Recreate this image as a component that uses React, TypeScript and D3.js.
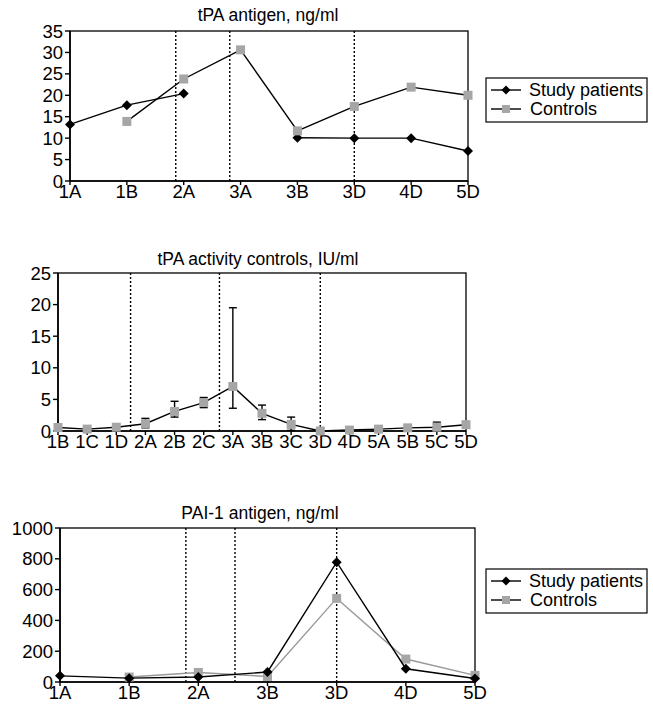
import React from 'react';
import * as d3 from 'd3';

// tPA antigen
const antigenCats = ['1A', '1B', '2A', '3A', '3B', '3D', '4D', '5D'];
const antigenStudy = [13.2, 17.7, 20.4, null, 10.1, 10, 10, 7.0];
const antigenControls = [null, 13.9, 23.8, 30.6, 11.7, 17.4, 21.9, 20.0];
const antigenTicks = [0, 5, 10, 15, 20, 25, 30, 35];
const antigenDividers = [1.86, 2.81, 5];

// tPA activity controls
const activityCats = ['1B', '1C', '1D', '2A', '2B', '2C', '3A', '3B', '3C', '3D', '4D', '5A', '5B', '5C', '5D'];
const activityValues = [0.55, 0.3, 0.6, 1.15, 3.1, 4.5, 7.05, 2.8, 1.05, 0, 0.15, 0.3, 0.5, 0.6, 1.0];
const activityUpper = [0.55, 0.3, 0.6, 2.0, 4.7, 5.3, 19.5, 4.1, 2.2, 0, 0.15, 0.3, 0.5, 1.4, 1.0];
const activityLower = [0.55, 0.3, 0.6, 0.5, 2.2, 3.7, 3.6, 1.8, 0.1, 0, 0.15, 0.3, 0.5, 0.3, 1.0];
const activityTicks = [0, 5, 10, 15, 20, 25];
const activityDividers = [2.49, 5.54, 9];

// PAI-1 antigen
const paiCats = ['1A', '1B', '2A', '3B', '3D', '4D', '5D'];
const paiStudy = [40, 25, 32, 65, 778, 86, 23];
const paiControls = [null, 32, 62, 36, 543, 149, 43];
const paiTicks = [0, 200, 400, 600, 800, 1000];
const paiDividers = [1.82, 2.53, 4];

const FONT = '"Liberation Sans", Arial, sans-serif';
const GRAY = '#a6a6a6';

type Series = { values: (number | null)[]; kind: 'diamond' | 'square'; line: string };

function Diamond({ x, y, r = 5 }: { x: number; y: number; r?: number }) {
  return <path d={`M${x},${y - r}L${x + r},${y}L${x},${y + r}L${x - r},${y}Z`} fill="#000" />;
}

function Square({ x, y, s = 9 }: { x: number; y: number; s?: number }) {
  return <rect x={x - s / 2} y={y - s / 2} width={s} height={s} fill={GRAY} />;
}

function Panel({
  cats, series, ticks, dividers, left, right, top, bottom, title, titleX, titleY, errors,
}: {
  cats: string[]; series: Series[]; ticks: number[]; dividers: number[];
  left: number; right: number; top: number; bottom: number;
  title: string; titleX: number; titleY: number;
  errors?: { upper: number[]; lower: number[] };
}) {
  const x = d3.scaleLinear().domain([0, cats.length - 1]).range([left, right]);
  const y = d3.scaleLinear().domain([0, ticks[ticks.length - 1]]).range([bottom, top]);

  return (
    <g fontFamily={FONT}>
      <text x={titleX} y={titleY} textAnchor="middle" dominantBaseline="central" fontSize={17.5}>
        {title}
      </text>
      <rect x={left} y={top} width={right - left} height={bottom - top} fill="none" stroke="#000" strokeWidth={1.3} />
      {dividers.map((d, i) => (
        <line key={i} x1={x(d)} x2={x(d)} y1={top} y2={bottom} stroke="#000" strokeWidth={1.4} strokeDasharray="2,2" />
      ))}
      {/* y axis */}
      <line x1={left} x2={left} y1={top} y2={bottom} stroke="#000" strokeWidth={1.6} />
      {ticks.map(t => (
        <g key={t}>
          <line x1={left - 5} x2={left} y1={y(t)} y2={y(t)} stroke="#000" strokeWidth={1.4} />
          <text x={left - 7} y={y(t)} textAnchor="end" dominantBaseline="central" fontSize={18.5}>
            {t}
          </text>
        </g>
      ))}
      {/* x axis */}
      <line x1={left} x2={right} y1={bottom} y2={bottom} stroke="#000" strokeWidth={1.6} />
      {cats.map((c, i) => (
        <g key={c}>
          <line x1={x(i)} x2={x(i)} y1={bottom} y2={bottom + 4} stroke="#000" strokeWidth={1.4} />
          <text x={x(i)} y={bottom + 10.5} textAnchor="middle" dominantBaseline="central" fontSize={18.5}>
            {c}
          </text>
        </g>
      ))}
      {errors &&
        cats.map((c, i) =>
          errors.upper[i] - errors.lower[i] > 0.05 ? (
            <g key={'e' + c} stroke="#000" strokeWidth={1.4}>
              <line x1={x(i)} x2={x(i)} y1={y(errors.upper[i])} y2={y(errors.lower[i])} />
              <line x1={x(i) - 4} x2={x(i) + 4} y1={y(errors.upper[i])} y2={y(errors.upper[i])} />
              <line x1={x(i) - 4} x2={x(i) + 4} y1={y(errors.lower[i])} y2={y(errors.lower[i])} />
            </g>
          ) : null,
        )}
      {series.map((s, si) => {
        const line = d3
          .line<number | null>()
          .defined(v => v != null)
          .x((_, i) => x(i))
          .y(v => y(v as number));
        return (
          <g key={si}>
            <path d={line(s.values) || ''} fill="none" stroke={s.line} strokeWidth={1.4} />
            {s.values.map((v, i) =>
              v == null ? null : s.kind === 'diamond' ? (
                <Diamond key={i} x={x(i)} y={y(v)} />
              ) : (
                <Square key={i} x={x(i)} y={y(v)} />
              ),
            )}
          </g>
        );
      })}
    </g>
  );
}

function Legend({ x, y, controlsLine }: { x: number; y: number; controlsLine: string }) {
  return (
    <g fontFamily={FONT} fontSize={18}>
      <rect x={x} y={y} width={161} height={44} fill="#fff" stroke="#000" strokeWidth={1.2} />
      <line x1={x + 5} x2={x + 35} y1={y + 12} y2={y + 12} stroke="#000" strokeWidth={1.4} />
      <Diamond x={x + 20} y={y + 12} r={4.5} />
      <text x={x + 43} y={y + 12} dominantBaseline="central">Study patients</text>
      <line x1={x + 5} x2={x + 35} y1={y + 31} y2={y + 31} stroke={controlsLine} strokeWidth={1.4} />
      <Square x={x + 20} y={y + 31} s={8} />
      <text x={x + 44} y={y + 31} dominantBaseline="central">Controls</text>
    </g>
  );
}

export default function App() {
  return (
    <svg width={653} height={709} style={{ position: 'absolute', left: 0, top: 0, background: '#fff' }}>
      <Panel
        cats={antigenCats}
        series={[
          { values: antigenStudy, kind: 'diamond', line: '#000' },
          { values: antigenControls, kind: 'square', line: '#000' },
        ]}
        ticks={antigenTicks}
        dividers={antigenDividers}
        left={70}
        right={468}
        top={31}
        bottom={181}
        title="tPA antigen, ng/ml"
        titleX={268}
        titleY={15}
      />
      <Legend x={486} y={78} controlsLine="#000" />
      <Panel
        cats={activityCats}
        series={[{ values: activityValues, kind: 'square', line: '#000' }]}
        ticks={activityTicks}
        dividers={activityDividers}
        left={58}
        right={466}
        top={273}
        bottom={431}
        title="tPA activity controls, IU/ml"
        titleX={258}
        titleY={259}
        errors={{ upper: activityUpper, lower: activityLower }}
      />
      <Panel
        cats={paiCats}
        series={[
          { values: paiControls, kind: 'square', line: '#999' },
          { values: paiStudy, kind: 'diamond', line: '#000' },
        ]}
        ticks={paiTicks}
        dividers={paiDividers}
        left={60}
        right={475}
        top={528}
        bottom={682}
        title="PAI-1 antigen, ng/ml"
        titleX={260}
        titleY={513}
      />
      <Legend x={486} y={569} controlsLine="#000" />
    </svg>
  );
}
